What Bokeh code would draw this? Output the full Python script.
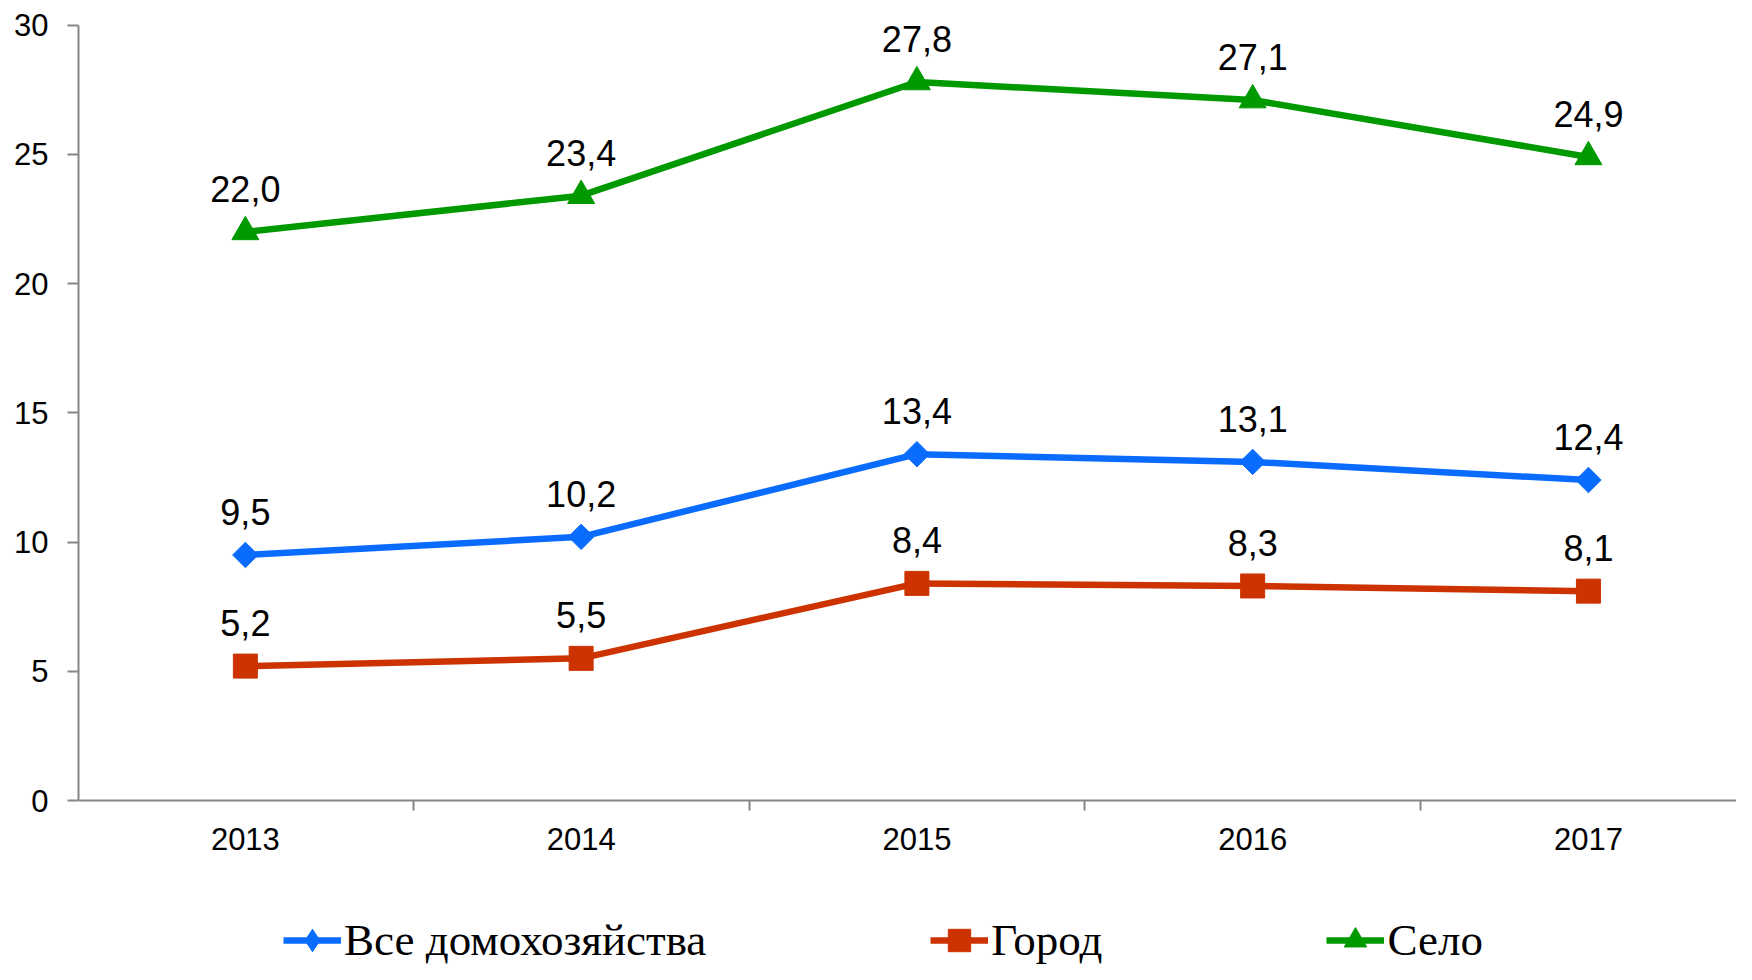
import math
from bokeh.plotting import figure
from bokeh.models import Range1d, FixedTicker, Legend, LegendItem, ColumnDataSource
from bokeh.core.properties import value
from bokeh.embed import file_html
from bokeh.resources import INLINE

years = ["2013", "2014", "2015", "2016", "2017"]
all_households = [9.5, 10.2, 13.4, 13.1, 12.4]
city = [5.2, 5.5, 8.4, 8.3, 8.1]
village = [22.0, 23.4, 27.8, 27.1, 24.9]
series_names = ["Все домохозяйства", "Город", "Село"]
y_ticks = [0, 5, 10, 15, 20, 25, 30]

colors = ["#0A6CFF", "#CC3300", "#009900"]
markers = ["square", "square", "triangle"]
legend_markers = ["diamond", "square", "triangle"]
marker_angles = [math.pi / 4, 0, 0]
marker_sizes = [18, 24, 27]

xs = list(range(len(years)))

p = figure(width=1736, height=964, output_backend="svg", toolbar_location=None,
           x_range=Range1d(-0.497, 4.441), y_range=Range1d(-6.345, 30.952),
           min_border_left=78, min_border_top=0, min_border_bottom=0, min_border_right=0)
p.outline_line_color = None
p.grid.grid_line_color = None
p.background_fill_color = "white"
p.border_fill_color = "white"

axis_color = "#868686"
xa = p.xaxis[0]
xa.fixed_location = 0
xa.ticker = FixedTicker(ticks=xs, minor_ticks=[i - 0.5 for i in range(len(years) + 1)])
xa.major_label_overrides = {i: y for i, y in enumerate(years)}
xa.major_tick_out = 0
xa.major_tick_in = 0
xa.minor_tick_out = 10
xa.minor_tick_in = 0
xa.minor_tick_line_color = axis_color
xa.minor_tick_line_width = 2
xa.axis_line_color = axis_color
xa.axis_line_width = 2
xa.major_label_text_font = "Liberation Sans"
xa.major_label_text_font_size = "31px"
xa.major_label_text_color = "black"
xa.major_label_standoff = 17

ya = p.yaxis[0]
ya.bounds = (0, 30)
ya.ticker = FixedTicker(ticks=y_ticks, minor_ticks=[])
ya.major_tick_out = 11
ya.major_tick_in = 0
ya.major_tick_line_color = axis_color
ya.major_tick_line_width = 2
ya.axis_line_color = axis_color
ya.axis_line_width = 2
ya.major_label_text_font = "Liberation Sans"
ya.major_label_text_font_size = "31px"
ya.major_label_text_color = "black"
ya.major_label_standoff = 19

items = []
for name, vals, col, mk, lmk, ang, ms in zip(series_names, [all_households, city, village], colors,
                                            markers, legend_markers, marker_angles, marker_sizes):
    src = ColumnDataSource(dict(x=xs, y=vals, lab=[f"{v:.1f}".replace(".", ",") for v in vals]))
    r1 = p.line("x", "y", source=src, line_color=col, line_width=6.5)
    leg_renderers = [r1]
    if lmk != mk:
        # legend-shaped marker, hidden under the plotted marker
        leg_renderers.append(p.scatter("x", "y", source=src, marker=lmk, size=ms,
                                       fill_color=col, line_color=col))
    r2 = p.scatter("x", "y", source=src, marker=mk, size=ms, angle=ang,
                   fill_color=col, line_color=col)
    if lmk == mk:
        leg_renderers.append(r2)
    p.text("x", "y", text="lab", source=src, y_offset=-43, text_align="center",
           text_baseline="middle", text_font=value("Liberation Sans"), text_font_size="36px",
           text_color="black")
    items.append(LegendItem(label=name, renderers=leg_renderers))

legend = Legend(items=items, orientation="horizontal", location=(205, -4),
                padding=0, margin=0, spacing=224, glyph_width=58, glyph_height=56,
                label_height=56, label_standoff=3,
                label_text_font="Liberation Serif", label_text_font_size="45px",
                label_text_color="black", border_line_color=None, background_fill_alpha=0)
p.add_layout(legend, "center")

open("out.html", "w").write(file_html(p, INLINE))
